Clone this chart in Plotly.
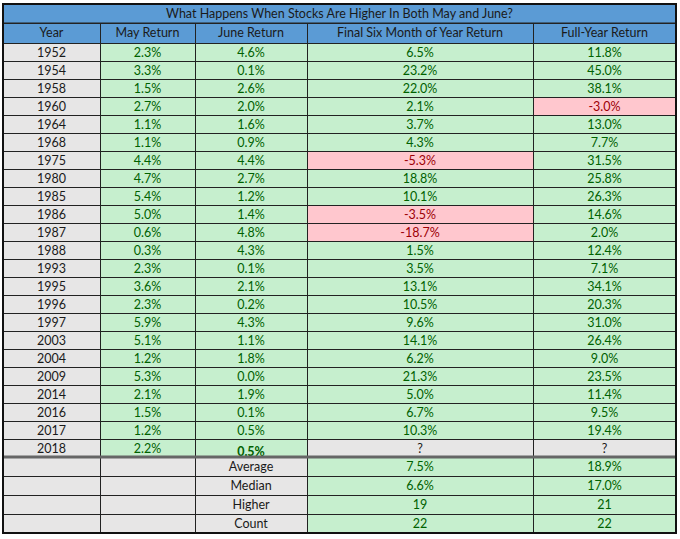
import plotly.graph_objects as go

title_text = "What Happens When Stocks Are Higher In Both May and June?"
headers = ["Year", "May Return", "June Return", "Final Six Month of Year Return", "Full-Year Return"]

years = [1952, 1954, 1958, 1960, 1964, 1968, 1975, 1980, 1985, 1986, 1987, 1988,
         1993, 1995, 1996, 1997, 2003, 2004, 2009, 2014, 2016, 2017, 2018]
may_ret = [2.3, 3.3, 1.5, 2.7, 1.1, 1.1, 4.4, 4.7, 5.4, 5.0, 0.6, 0.3,
           2.3, 3.6, 2.3, 5.9, 5.1, 1.2, 5.3, 2.1, 1.5, 1.2, 2.2]
june_ret = [4.6, 0.1, 2.6, 2.0, 1.6, 0.9, 4.4, 2.7, 1.2, 1.4, 4.8, 4.3,
            0.1, 2.1, 0.2, 4.3, 1.1, 1.8, 0.0, 1.9, 0.1, 0.5, 0.5]
final_six = [6.5, 23.2, 22.0, 2.1, 3.7, 4.3, -5.3, 18.8, 10.1, -3.5, -18.7, 1.5,
             3.5, 13.1, 10.5, 9.6, 14.1, 6.2, 21.3, 5.0, 6.7, 10.3, None]
full_year = [11.8, 45.0, 38.1, -3.0, 13.0, 7.7, 31.5, 25.8, 26.3, 14.6, 2.0, 12.4,
             7.1, 34.1, 20.3, 31.0, 26.4, 9.0, 23.5, 11.4, 9.5, 19.4, None]

summary_labels = ["Average", "Median", "Higher", "Count"]
summary_final = ["7.5%", "6.6%", "19", "22"]
summary_full = ["18.9%", "17.0%", "21", "22"]

GREEN_BG, GREEN_TX = "#C6EFCE", "#006100"
RED_BG, RED_TX = "#FFC7CE", "#9C0006"
GRAY_BG = "#E7E6E6"
BLUE_BG = "#5B9BD5"
DARK = "#1a1a1a"
LINE = "#222222"
FONT = "Lato"
FSIZE = 12.5
CLEAR = "rgba(0,0,0,0)"

W, H = 680, 539
X0, X1 = 3, 676
Y_TITLE_TOP, Y_HEADER_TOP = 4, 23
HEADER_H = 20
ROW_H = 18
SUM_ROW_H = 19


def fmt(v):
    return "?" if v is None else f"{v:.1f}%"


def col_style(vals):
    fills, colors = [], []
    for v in vals:
        if v is None:
            fills.append(GRAY_BG); colors.append(DARK)
        elif v < 0:
            fills.append(RED_BG); colors.append(RED_TX)
        else:
            fills.append(GREEN_BG); colors.append(GREEN_TX)
    return fills, colors


def yf(px):
    return 1 - px / H


n = len(years)
ncols = len(headers)
colwidths = [97, 95, 112, 226, 143]

# ---- main data block ----
data_vals = [
    [str(y) for y in years],
    [fmt(v) for v in may_ret],
    [fmt(v) for v in june_ret[:-1]] + ["<b>" + fmt(june_ret[-1]) + "</b>"],
    [fmt(v) for v in final_six],
    [fmt(v) for v in full_year],
]
f_may, c_may = col_style(may_ret)
f_june, c_june = col_style(june_ret)
f_final, c_final = col_style(final_six)
f_full, c_full = col_style(full_year)
data_fills = [[GRAY_BG] * n, f_may, f_june, f_final, f_full]
data_colors = [[DARK] * n, c_may, c_june, c_final, c_full]

# ---- summary block (first summary row acts as that table's header) ----
sum_head_vals = ["", "", summary_labels[0], summary_final[0], summary_full[0]]
sum_vals = [[""] * 3, [""] * 3, summary_labels[1:], summary_final[1:], summary_full[1:]]
sum_col_fill = [GRAY_BG, GRAY_BG, GRAY_BG, GREEN_BG, GREEN_BG]
sum_col_color = [DARK, DARK, DARK, GREEN_TX, GREEN_TX]


def table_pair(fig, top_px, head_vals, head_fill, head_color, head_h,
               cell_vals, cell_fill, cell_color, cell_h, raise_px):
    blank_cells = [[""] * len(c) for c in cell_vals]
    fig.add_trace(go.Table(
        domain=dict(x=[X0 / W, X1 / W], y=[0, yf(top_px)]),
        columnwidth=colwidths,
        header=dict(values=[""] * ncols, fill_color=head_fill, height=head_h,
                    line=dict(color=LINE, width=1)),
        cells=dict(values=blank_cells, fill_color=cell_fill, height=cell_h,
                   line=dict(color=LINE, width=1)),
    ))
    fig.add_trace(go.Table(
        domain=dict(x=[X0 / W, X1 / W], y=[0, yf(top_px - raise_px)]),
        columnwidth=colwidths,
        header=dict(values=head_vals, fill_color=CLEAR, height=head_h,
                    line=dict(color=CLEAR, width=0), align="center",
                    font=dict(family=FONT, size=FSIZE, color=head_color)),
        cells=dict(values=cell_vals, fill_color=CLEAR, height=cell_h,
                   line=dict(color=CLEAR, width=0), align="center",
                   font=dict(family=FONT, size=FSIZE, color=cell_color)),
    ))


fig = go.Figure()
table_pair(fig, Y_HEADER_TOP, headers, BLUE_BG, DARK, HEADER_H,
           data_vals, data_fills, data_colors, ROW_H, 3.5)

y_sep = Y_HEADER_TOP + HEADER_H + ROW_H * n
table_pair(fig, y_sep, sum_head_vals, sum_col_fill, sum_col_color, SUM_ROW_H,
           sum_vals, [[c] * 3 for c in sum_col_fill], [[c] * 3 for c in sum_col_color],
           SUM_ROW_H, 3)
y_bot = y_sep + SUM_ROW_H * 4

# title bar
fig.add_shape(type="rect", xref="paper", yref="paper", x0=X0 / W, x1=X1 / W,
              y0=yf(Y_HEADER_TOP), y1=yf(Y_TITLE_TOP), fillcolor=BLUE_BG,
              line=dict(color=LINE, width=1), layer="below")
fig.add_annotation(text=title_text, xref="paper", yref="paper",
                   x=(X0 + X1) / 2 / W, y=yf((Y_TITLE_TOP + Y_HEADER_TOP) / 2),
                   showarrow=False, xanchor="center", yanchor="middle",
                   font=dict(family=FONT, size=FSIZE, color=DARK))

fig.add_shape(type="line", xref="paper", yref="paper", x0=X0 / W, x1=X1 / W,
              y0=yf(y_sep), y1=yf(y_sep), line=dict(color="#666", width=3), layer="above")
fig.add_shape(type="rect", xref="paper", yref="paper", x0=X0 / W, x1=X1 / W,
              y0=yf(y_bot), y1=yf(Y_TITLE_TOP), line=dict(color="#111", width=2), layer="above")

fig.update_layout(width=W, height=H, margin=dict(l=0, r=0, t=0, b=0),
                  paper_bgcolor="white", plot_bgcolor="white")
fig.write_html("out.html", config={"displayModeBar": False},
               post_script="document.body.style.margin='0';document.body.style.overflow='hidden';")
